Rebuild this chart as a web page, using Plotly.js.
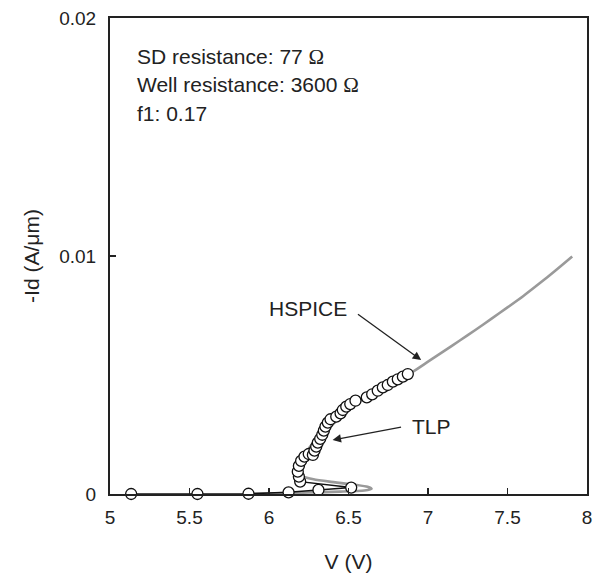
<!DOCTYPE html>
<html>
<head>
<meta charset="utf-8">
<script src="https://cdn.plot.ly/plotly-3.0.1.min.js"></script>
<style>html,body{margin:0;padding:0;background:#fff;}#plot{width:594px;height:574px;}</style>
</head>
<body>
<div id="plot"></div>
<script>
// HSPICE simulated curve (V, -Id)
const hspiceV = [7.907, 7.8, 7.7, 7.6, 7.5, 7.4, 7.3, 7.2, 7.1, 7.0, 6.9, 6.72, 6.57, 6.43, 6.33, 6.26, 6.21, 6.185, 6.18, 6.2, 6.28, 6.38, 6.55, 6.62, 6.645, 6.6, 6.45, 6.25, 6.05, 5.88];
const hspiceI = [0.00998, 0.00938, 0.00884, 0.00832, 0.00784, 0.00737, 0.0069, 0.00645, 0.006, 0.00556, 0.00512, 0.0045, 0.0039, 0.0031, 0.0025, 0.0020, 0.0015, 0.0011, 0.0009, 0.00076, 0.00062, 0.00052, 0.00038, 0.0003, 0.00022, 0.00015, 0.0001, 0.00006, 0.00003, 0.00001];

// TLP measured points
const tlpV = [5.133, 5.55, 5.871, 6.123, 6.311, 6.517,
  6.196, 6.188, 6.181, 6.188, 6.202, 6.223, 6.25, 6.276, 6.286, 6.297, 6.307, 6.322, 6.335, 6.345, 6.355, 6.37, 6.387,
  6.423, 6.45, 6.464, 6.486, 6.511, 6.544, 6.615, 6.649, 6.684, 6.716, 6.747, 6.779, 6.81, 6.842, 6.873];
const tlpI = [0, 0, 0.00001, 0.00007, 0.00017, 0.00027,
  0.00052, 0.00073, 0.00094, 0.00118, 0.00139, 0.00157, 0.00168, 0.00164, 0.00182, 0.00199, 0.00216, 0.00232, 0.00249, 0.00266, 0.00283, 0.003, 0.00314,
  0.00325, 0.00339, 0.00353, 0.00367, 0.00378, 0.00392, 0.00406, 0.00419, 0.00434, 0.00448, 0.00458, 0.00472, 0.00482, 0.00493, 0.00504];

const xTicks = [5, 5.5, 6, 6.5, 7, 7.5, 8];
const xTickText = ['5', '5.5', '6', '6.5', '7', '7.5', '8'];
const yTicks = [0, 0.01, 0.02];
const yTickText = ['0', '0.01', '0.02'];

const OMEGA = '<span style="font-family:\'Liberation Serif\',\'Times New Roman\',serif">\u03A9</span>';
const infoLines = ['SD resistance: 77 ' + OMEGA, 'Well resistance: 3600 ' + OMEGA, 'f1: 0.17'];

const FONT = 'Liberation Sans, Arial, Helvetica, sans-serif';
const INK = '#222';

const traces = [
  {x: hspiceV, y: hspiceI, mode: 'lines', type: 'scatter',
   line: {color: '#9a9a9a', width: 2.6, shape: 'spline', smoothing: 0.6}, hoverinfo: 'skip'},
  {x: tlpV, y: tlpI, mode: 'lines+markers', type: 'scatter',
   line: {color: '#111', width: 1.5},
   marker: {size: 11, color: '#fff', line: {color: '#111', width: 1.3}}, cliponaxis: false}
];

const annotations = [];
const infoY = [0.918, 0.859, 0.800];
infoLines.forEach((t, i) => {
  annotations.push({xref: 'paper', yref: 'paper', x: 0.052, y: infoY[i], text: t,
    showarrow: false, xanchor: 'left', yanchor: 'middle', font: {family: FONT, size: 21, color: INK}});
});
annotations.push({xref: 'x', yref: 'y', x: 6.248, y: 0.00781, text: 'HSPICE', showarrow: false,
  xanchor: 'center', yanchor: 'middle', font: {family: FONT, size: 21, color: INK}});
annotations.push({xref: 'x', yref: 'y', x: 6.957, y: 0.00563, axref: 'x', ayref: 'y', ax: 6.55, ay: 0.0076,
  text: '', showarrow: true, arrowhead: 2, arrowsize: 1.3, arrowwidth: 1.3, arrowcolor: INK});
annotations.push({xref: 'x', yref: 'y', x: 7.025, y: 0.00282, text: 'TLP', showarrow: false,
  xanchor: 'center', yanchor: 'middle', font: {family: FONT, size: 21, color: INK}});
annotations.push({xref: 'x', yref: 'y', x: 6.40, y: 0.00227, axref: 'x', ayref: 'y', ax: 6.84, ay: 0.00282,
  text: '', showarrow: true, arrowhead: 2, arrowsize: 1.3, arrowwidth: 1.3, arrowcolor: INK});

const layout = {
  width: 594, height: 574,
  margin: {l: 110, r: 7, t: 18, b: 80},
  paper_bgcolor: '#fff', plot_bgcolor: '#fff',
  showlegend: false,
  font: {family: FONT, color: INK},
  xaxis: {range: [5, 8], tickvals: xTicks, ticktext: xTickText, ticks: 'inside', ticklen: 6, tickwidth: 1.2,
    tickcolor: INK, showline: true, mirror: true, linewidth: 2, linecolor: INK, showgrid: false, zeroline: false,
    tickfont: {family: FONT, size: 19, color: INK}, ticklabelstandoff: 5,
    title: {text: 'V (V)', font: {family: FONT, size: 21, color: INK}, standoff: 28}},
  yaxis: {range: [0, 0.02], tickvals: yTicks, ticktext: yTickText, ticks: 'inside', ticklen: 6, tickwidth: 1.2,
    tickcolor: INK, showline: true, mirror: true, linewidth: 2, linecolor: INK, showgrid: false, zeroline: false,
    tickfont: {family: FONT, size: 19, color: INK}, ticklabelstandoff: 8,
    title: {text: '-Id (A/\u03BCm)', font: {family: FONT, size: 21, color: INK}, standoff: 14}},
  annotations: annotations
};

Plotly.newPlot('plot', traces, layout, {staticPlot: true, displayModeBar: false});
</script>
</body>
</html>
